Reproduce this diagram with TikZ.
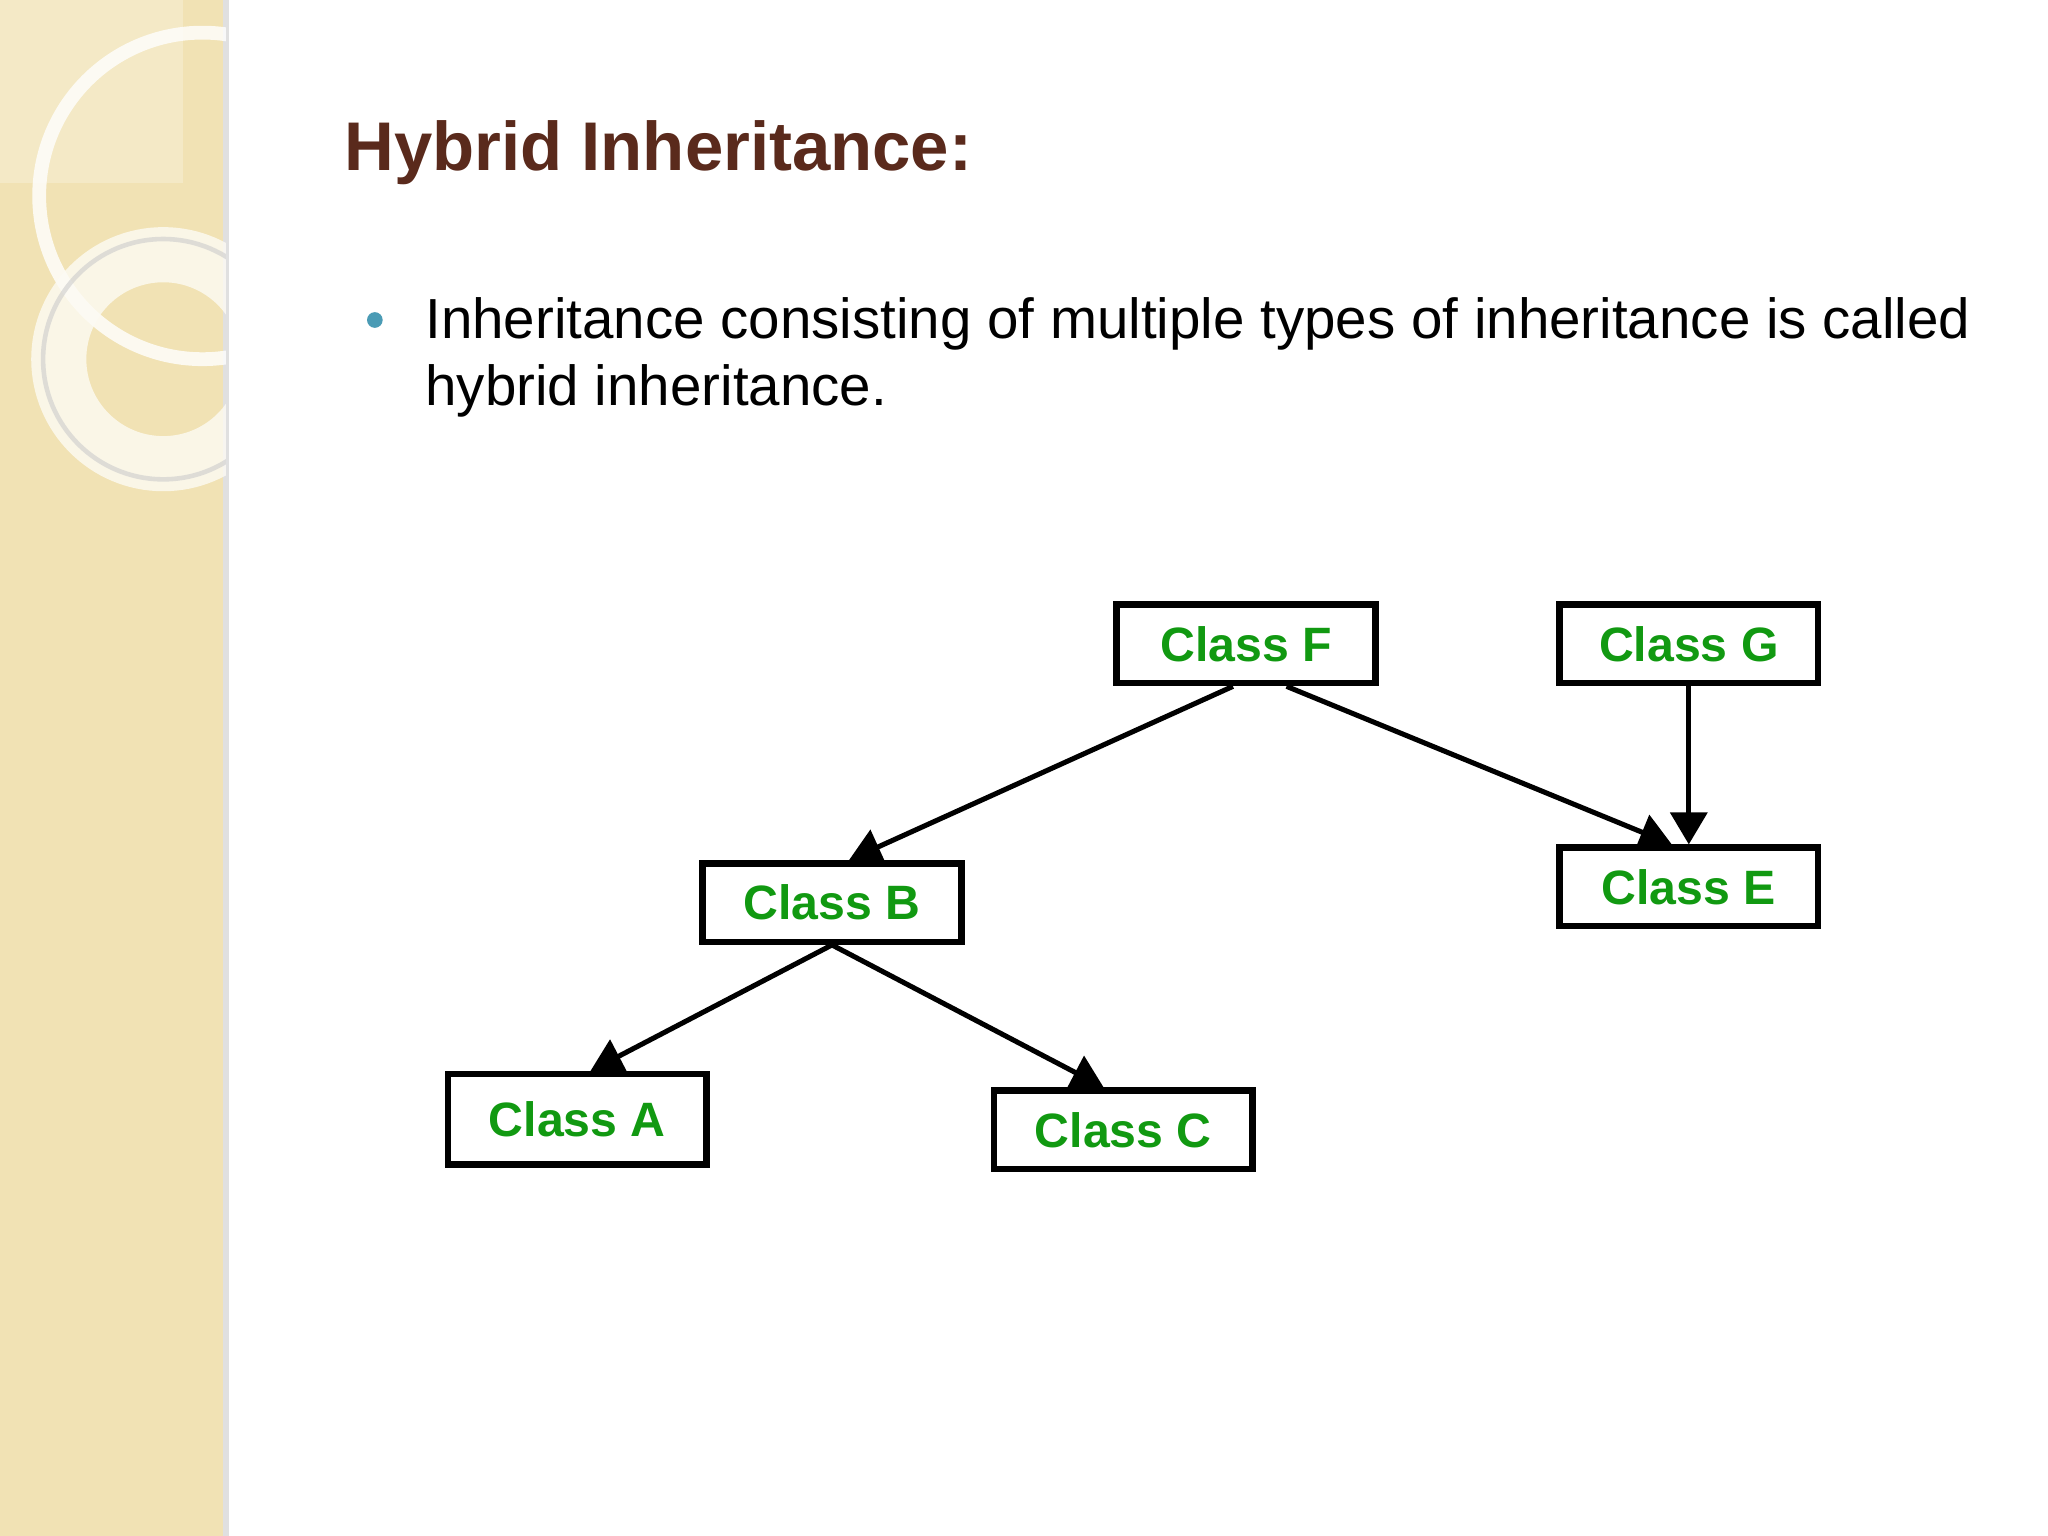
\documentclass[tikz,border=0pt]{standalone}
\usepackage{fontspec}
\setmainfont{Liberation Sans}
\usetikzlibrary{arrows.meta}
\definecolor{panel}{HTML}{F1E2B4}
\definecolor{titlec}{HTML}{5A2A1C}
\definecolor{bul}{HTML}{4A9BB5}
\definecolor{cls}{HTML}{119911}
\tikzset{
  cbox/.style={draw=black, line width=1.4pt, minimum width=1.98cm, minimum height=0.6cm, inner sep=0pt, font=\fontsize{10.5}{12}\selectfont\bfseries, text=cls},
  conn/.style={line width=1.1pt, -{Triangle[length=7pt,width=8pt]}}
}
\begin{document}
\begin{tikzpicture}[x=0.01cm,y=-0.01cm]
\useasboundingbox (0,0) rectangle (1568,1176);
\fill[white] (0,0) rectangle (1568,1176);
\fill[panel] (0,0) rectangle (173,1176);
\fill[black!12] (171,0) rectangle (175,1176);
\begin{scope}
\clip (0,0) rectangle (173,1176);
\fill[white,opacity=0.25] (0,0) rectangle (140,140);
\draw[white,opacity=0.8,line width=3pt] (155,150) circle (125);
\draw[white!85!panel,line width=12pt,opacity=0.8] (125,275) circle (80);
\draw[black!20,line width=1pt,opacity=0.6] (125,275) circle (92);
\end{scope}
\node[anchor=west,font=\fontsize{15}{18}\selectfont\bfseries,text=titlec,inner sep=0pt] (title) at (263,117) {Hybrid Inheritance:};
\fill[bul] (287,245) circle (6);
\node[anchor=north west,align=left,font=\fontsize{12.3}{14.6}\selectfont,inner sep=0pt] (body) at (325,227) {Inheritance consisting of multiple types of inheritance is called\\hybrid inheritance.};
\node[cbox] (F) at (954,493) {Class F};
\node[cbox] (G) at (1293,493) {Class G};
\node[cbox] (B) at (637,691) {Class B};
\node[cbox] (E) at (1293,679) {Class E};
\node[cbox,minimum height=0.69cm] (A) at (442,857) {Class A};
\node[cbox] (C) at (860,865) {Class C};
\draw[conn] ([xshift=-0.1cm]F.south) -- ([xshift=0.13cm]B.north);
\draw[conn] ([xshift=0.31cm]F.south) -- ([xshift=-0.13cm]E.north);
\draw[conn] (G.south) -- (E.north);
\draw[conn] (B.south) -- ([xshift=0.1cm]A.north);
\draw[conn] (B.south) -- ([xshift=-0.15cm]C.north);
\end{tikzpicture}
\end{document}
